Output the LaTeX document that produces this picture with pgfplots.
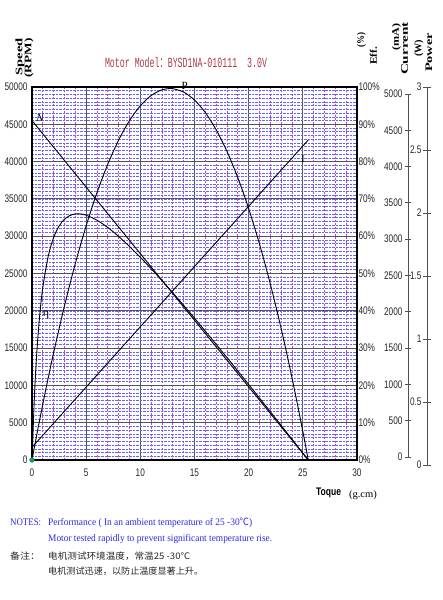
\documentclass[border=0pt]{standalone}
\usepackage{pgfplots}
\pgfplotsset{compat=1.18}
\usepackage{pgfplotstable}
\usepackage{graphicx}
\usepackage{fontspec}
\setmainfont{Liberation Serif}
\newfontfamily\nar[FakeStretch=0.75]{Liberation Sans}
\newfontfamily\mono{Liberation Mono}
\newfontfamily\cjk{Noto Sans CJK SC}
\definecolor{titlered}{RGB}{170,60,70}
\definecolor{noteblue}{RGB}{40,40,230}
\definecolor{majgrid}{RGB}{85,85,85}
\definecolor{minv}{RGB}{185,70,200}
\definecolor{minh}{RGB}{100,100,255}
\definecolor{sidegray}{RGB}{80,80,80}

% all series in the units of the left (0-50000) scale
\pgfplotstableread{
T N
0 45500
25.5 0
}\speedtab
\pgfplotstableread{
T I
0 1700
25.5 42900
}\curtab
\pgfplotstableread{
T P
0 0
0.5 3829
1 7505
1.5 11028
2 14398
3 20678
4 26345
5 31400
6 35842
7 39671
8 42888
9 45491
10 47483
11 48861
12 49627
12.75 49800
13 49780
14 49321
15 48249
16 46564
17 44266
18 41356
19 37833
20 33697
21 28949
22 23588
23 17615
24 11028
25 3829
25.5 0
}\powtab
\pgfplotstableread{
T E
0 0
0.25 9394
0.5 15605
0.75 19958
1 23133
1.5 27332
2 29838
2.5 31364
3 32275
3.5 32774
4 32982
4.5 32978
5 32815
6 32145
7 31161
8 29966
9 28623
10 27173
11 25642
12 24048
13 22406
14 20724
15 19011
16 17271
17 15509
18 13729
19 11933
20 10124
21 8302
22 6472
23 4632
24 2784
25 930
25.5 0
}\efftab

\begin{document}
\begin{tikzpicture}[x=1pt,y=1pt]
\path[use as bounding box] (-32,-140) rectangle (410,460);
\coordinate (curpos) at (376,3);
\coordinate (powpos) at (395,-5);

\begin{axis}[name=main, scale only axis,
  width=325pt, height=373pt,
  xmin=0, xmax=30, ymin=0, ymax=50000,
  xtick={0,5,...,30}, ytick={0,5000,...,50000},
  minor xtick={1,...,29}, minor ytick={500,1000,...,49500},
  grid=both,
  major grid style={majgrid, line width=0.9pt},
  minor x grid style={minv, dash pattern=on 2pt off 1.5pt, line width=0.7pt},
  minor y grid style={minh, densely dotted, line width=0.55pt},
  axis line style={black, line width=1.6pt},
  tick style={draw=none},
  scaled y ticks=false,
  /pgf/number format/assume math mode=true,
  /pgf/number format/set thousands separator={},
  ticklabel style={font=\nar\fontsize{11}{11}\selectfont, text=black!85},
  xticklabel shift=5pt,
  yticklabel shift=1pt,
  clip=false]
\addplot[black, line width=0.9pt] table[x=T, y=N] {\speedtab};
\addplot[black, line width=0.9pt] table[x=T, y=I] {\curtab};
\addplot[black, line width=0.9pt, smooth] table[x=T, y=P] {\powtab};
\addplot[black, line width=0.9pt, smooth] table[x=T, y=E] {\efftab};
\addplot[only marks, mark=*, mark size=2.4pt, mark options={fill=green!75!black, draw=blue!70}] coordinates {(0,0)};
\node[font=\itshape\fontsize{11}{11}\selectfont] at (axis cs:0.75,45800) {N};
\node[font=\fontsize{11}{11}\selectfont] at (axis cs:14.1,50200) {P};
\node[font=\fontsize{11}{11}\selectfont] at (axis cs:25.0,40350) {I};
\node[font=\fontsize{12}{12}\selectfont] at (axis cs:1.3,19440) {η};
\end{axis}

% efficiency scale (right of plot)
\begin{axis}[scale only axis,
  width=325pt, height=373pt,
  xmin=0, xmax=30, ymin=0, ymax=100,
  hide x axis, axis y line*=right, y axis line style={draw=none},
  ytick={0,10,...,100}, tick style={draw=none},
  /pgf/number format/assume math mode=true,
  yticklabel={\pgfmathprintnumber{\tick}\%},
  yticklabel style={font=\nar\fontsize{11}{11}\selectfont, text=black!85, anchor=west, xshift=-2pt}]
\end{axis}

% current scale
\begin{axis}[at={(curpos)}, anchor=south west, scale only axis,
  width=1pt, height=363pt,
  xmin=0, xmax=1, ymin=0, ymax=5000,
  hide x axis, axis y line*=left, y axis line style={sidegray, line width=0.9pt, -},
  ytick={0,500,...,5000}, tick align=center, major tick length=6pt,
  tick style={sidegray, line width=0.9pt},
  /pgf/number format/assume math mode=true,
  /pgf/number format/set thousands separator={},
  scaled y ticks=false,
  yticklabel style={font=\nar\fontsize{11}{11}\selectfont, text=black!85, xshift=1pt}]
\end{axis}

% power scale
\begin{axis}[at={(powpos)}, anchor=south west, scale only axis,
  width=1pt, height=378pt,
  xmin=0, xmax=1, ymin=0, ymax=3,
  hide x axis, axis y line*=left, y axis line style={sidegray, line width=0.9pt, -},
  ytick={0,0.5,1,1.5,2,2.5,3}, yticklabels={0,0.5,1,1.5,2,2.5,3},
  tick align=center, major tick length=8pt,
  tick style={sidegray, line width=0.9pt},
  yticklabel style={font=\nar\fontsize{11}{11}\selectfont, text=black!85, xshift=2pt}]
\end{axis}

% title
\node[titlered, inner sep=0] at (154,397) {\resizebox{162pt}{\height}{\mono\fontsize{14}{14}\selectfont Motor Model{\cjk ：}BYSD1NA-010111\ \ 3.0V}};

% axis titles
\node[rotate=90, inner sep=0, font=\bfseries\fontsize{10}{10}\selectfont] at (-12,403) {\resizebox{37pt}{\height}{Speed}};
\node[rotate=90, inner sep=0, font=\bfseries\fontsize{10}{10}\selectfont] at (-3,402) {\resizebox{39pt}{\height}{(RPM)}};
\node[rotate=90, inner sep=0, font=\bfseries\fontsize{10}{10}\selectfont] at (329.5,420) {\resizebox{15pt}{\height}{(\%)}};
\node[rotate=90, inner sep=0, font=\bfseries\fontsize{10}{10}\selectfont] at (341.5,404) {\resizebox{18pt}{\height}{Eff.}};
\node[rotate=90, inner sep=0, font=\bfseries\fontsize{10}{10}\selectfont] at (364.5,423) {\resizebox{27pt}{\height}{(mA)}};
\node[rotate=90, inner sep=0, font=\bfseries\fontsize{10}{10}\selectfont] at (372.5,411.5) {\resizebox{53pt}{\height}{Current}};
\node[rotate=90, inner sep=0, font=\bfseries\fontsize{10}{10}\selectfont] at (387,411.5) {\resizebox{17pt}{\height}{(W)}};
\node[rotate=90, inner sep=0, font=\bfseries\fontsize{10}{10}\selectfont] at (397,407.5) {\resizebox{39pt}{\height}{Power}};

\node[inner sep=0, font=\nar\bfseries\fontsize{11}{11}\selectfont] at (296.5,-33) {\resizebox{25pt}{\height}{Toque}};
\node[inner sep=0, font=\fontsize{10}{10}\selectfont] at (331,-35) {\resizebox{28pt}{\height}{(g.cm)}};

% notes
\node[anchor=west, inner sep=0, noteblue, font=\fontsize{10}{10}\selectfont] at (-22,-62.5) {\resizebox{31pt}{\height}{NOTES:}};
\node[anchor=west, inner sep=0, noteblue, font=\fontsize{10}{10}\selectfont] at (16,-62.5) {\resizebox{204pt}{\height}{Performance ( In an ambient temperature of 25 -30{\cjk ℃})}};
\node[anchor=west, inner sep=0, noteblue, font=\fontsize{10}{10}\selectfont] at (16,-79) {\resizebox{224pt}{\height}{Motor tested rapidly to prevent significant temperature rise.}};
\node[anchor=west, inner sep=0, black!85, font=\cjk\fontsize{9}{9}\selectfont] at (-22,-96) {\resizebox{30pt}{\height}{备注：}};
\node[anchor=west, inner sep=0, black!85, font=\cjk\fontsize{9}{9}\selectfont] at (16,-96) {\resizebox{142pt}{\height}{电机测试环境温度，常温25 -30℃}};
\node[anchor=west, inner sep=0, black!85, font=\cjk\fontsize{9}{9}\selectfont] at (16,-111.5) {\resizebox{155pt}{\height}{电机测试迅速，以防止温度显著上升。}};
\end{tikzpicture}
\end{document}
